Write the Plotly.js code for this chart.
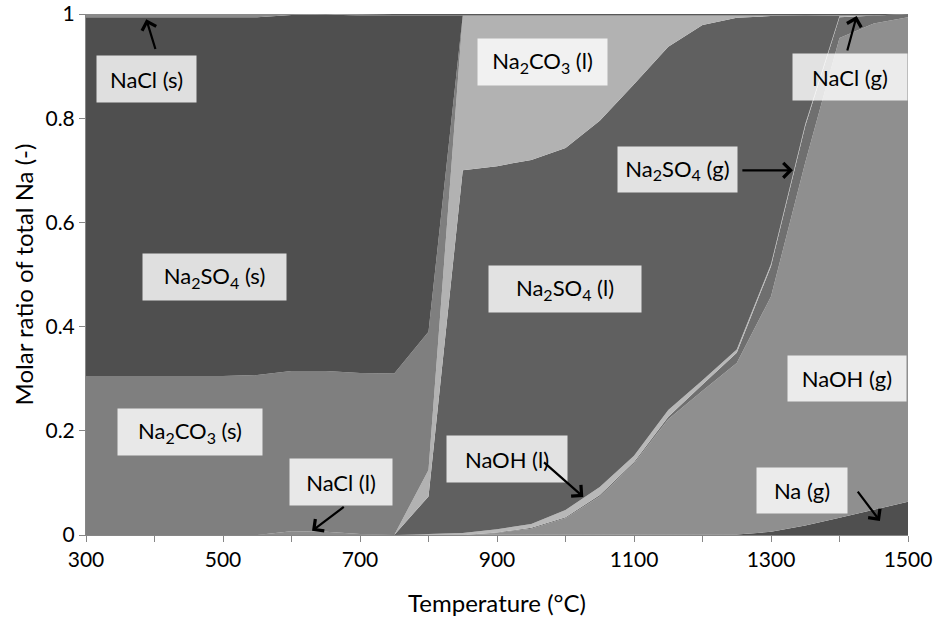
<!DOCTYPE html>
<html>
<head>
<meta charset="utf-8">
<script src="https://cdn.plot.ly/plotly-3.0.1.min.js"></script>
<style>
  html, body { margin: 0; padding: 0; background: #ffffff; }
  #chart { width: 939px; height: 625px; }
</style>
</head>
<body>
<div id="chart"></div>
<script>
// Temperature (°C)
const temperature = [300,350,400,450,500,550,600,650,700,750,800,850,900,950,1000,1050,1100,1150,1200,1250,1300,1350,1400,1450,1500];

// Molar ratio of total Na, per species (stacked bottom -> top)
const Na_g     = [0,0,0,0,0,0,0,0,0,0,0,0,0,0,0,0,0,0,0,0.001,0.006,0.018,0.033,0.048,0.064];
const NaOH_g   = [0,0,0,0,0,0,0,0,0,0,0,0,0.004,0.012,0.032,0.074,0.137,0.222,0.277,0.329,0.452,0.697,0.921,0.934,0.930];
const Na2SO4_g = [0,0,0,0,0,0,0,0,0,0,0,0,0.001,0.002,0.002,0.003,0.003,0.005,0.012,0.020,0.058,0.070,0.040,0.015,0.006];
const NaCl_l   = [0,0,0,0,0,0,0.007,0.006,0.002,0,0,0,0,0,0,0,0,0,0,0,0,0,0,0,0];
const NaOH_l   = [0,0,0,0,0,0,0,0,0,0,0.002,0.004,0.006,0.007,0.014,0.015,0.012,0.013,0.008,0.006,0.004,0.004,0.002,0,0];
const Na2SO4_l = [0,0,0,0,0,0,0,0,0,0,0.072,0.696,0.697,0.699,0.695,0.703,0.713,0.697,0.682,0.637,0.476,0.208,0,0,0];
const Na2CO3_l = [0,0,0,0,0,0,0,0,0,0,0.051,0.297,0.289,0.277,0.254,0.202,0.132,0.060,0.018,0.004,0.001,0,0,0,0];
const Na2CO3_s = [0.305,0.305,0.305,0.305,0.305,0.307,0.308,0.309,0.309,0.310,0.265,0,0,0,0,0,0,0,0,0,0,0,0,0,0];
const Na2SO4_s = [0.689,0.689,0.689,0.689,0.689,0.687,0.683,0.684,0.686,0.687,0.607,0,0,0,0,0,0,0,0,0,0,0,0,0,0];
const NaCl_g   = [0,0,0,0,0,0,0,0,0.003,0.003,0.003,0.003,0.003,0.003,0.003,0.003,0.003,0.003,0.003,0.003,0.003,0.003,0.004,0.003,0];
const NaCl_s   = [0.006,0.006,0.006,0.006,0.006,0.006,0.002,0.001,0,0,0,0,0,0,0,0,0,0,0,0,0,0,0,0,0];

const seriesNames = ["Na (g)","NaOH (g)","Na2SO4 (g)","NaCl (l)","NaOH (l)","Na2SO4 (l)","Na2CO3 (l)","Na2CO3 (s)","Na2SO4 (s)","NaCl (g)","NaCl (s)"];
const seriesValues = [Na_g, NaOH_g, Na2SO4_g, NaCl_l, NaOH_l, Na2SO4_l, Na2CO3_l, Na2CO3_s, Na2SO4_s, NaCl_g, NaCl_s];
const seriesColors = ["#4f4f4f","#8f8f8f","#6f6f6f","#8c8c8c","#b8b8b8","#606060","#b2b2b2","#7f7f7f","#4f4f4f","#585858","#8a8a8a"];

// Axis ticks
const xTickVals = [300,500,700,900,1100,1300,1500];
const xTickText = ["300","500","700","900","1100","1300","1500"];
const yTickVals = [0,0.2,0.4,0.6,0.8,1];
const yTickText = ["0","0.2","0.4","0.6","0.8","1"];

// Label boxes: text, centre (T, ratio), box size
const S = (d) => '<sub><span style="font-size:16px">' + d + '</span></sub>';
const labelTexts = ["NaCl (s)","Na"+S(2)+"CO"+S(3)+" (l)","NaCl (g)","Na"+S(2)+"SO"+S(4)+" (g)","Na"+S(2)+"SO"+S(4)+" (s)","Na"+S(2)+"SO"+S(4)+" (l)","NaOH (g)","Na"+S(2)+"CO"+S(3)+" (s)","NaOH (l)","NaCl (l)","Na (g)"];
const labelT = [388.4, 967, 1415, 1163, 487.8, 998.6, 1410.8, 452, 915.3, 672.7, 1345];
const labelV = [0.875, 0.908, 0.879, 0.7015, 0.495, 0.472, 0.300, 0.198, 0.146, 0.102, 0.0854];
const labelW = [99, 129, 114, 119, 143, 152, 118, 144, 120, 102, 90];
const labelH = [46, 46, 46, 45, 46, 46, 45, 46, 46, 46, 45];

// Arrows: tail -> tip
const arrowTailT = [402, 1410.8, 1256, 966.5, 678.5, 1425];
const arrowTailV = [0.93, 0.927, 0.70, 0.142, 0.056, 0.086];
const arrowTipT  = [388, 1425, 1332, 1026, 630, 1459];
const arrowTipV  = [0.99, 0.996, 0.70, 0.073, 0.008, 0.027];

const traces = seriesValues.map((vals, i) => ({
  type: "scatter",
  mode: "lines",
  name: seriesNames[i],
  x: temperature,
  y: vals,
  stackgroup: "one",
  line: {width: 0, color: seriesColors[i]},
  fillcolor: seriesColors[i],
  hoverinfo: "skip"
}));

const font = "Lato, 'Open Sans', sans-serif";
const annotations = [];
for (let i = 0; i < labelTexts.length; i++) {
  annotations.push({
    x: labelT[i], y: labelV[i], xref: "x", yref: "y",
    text: labelTexts[i], showarrow: false,
    width: labelW[i], height: labelH[i], borderpad: 0,
    bgcolor: "rgba(255,255,255,0.82)",
    align: "center", valign: "middle",
    font: {family: font, size: 22, color: "#000000"}
  });
}
for (let i = 0; i < arrowTipT.length; i++) {
  annotations.push({
    x: arrowTipT[i], y: arrowTipV[i], xref: "x", yref: "y",
    ax: arrowTailT[i], ay: arrowTailV[i], axref: "x", ayref: "y",
    text: "", showarrow: true, arrowhead: 4, arrowsize: 1.3, arrowwidth: 2.2,
    arrowcolor: "#000000", standoff: 0, startstandoff: 0
  });
}

const layout = {
  width: 939, height: 625,
  margin: {l: 86, r: 31, t: 14, b: 90},
  paper_bgcolor: "#ffffff", plot_bgcolor: "#ffffff",
  showlegend: false,
  font: {family: font, size: 18, color: "#000000"},
  xaxis: {
    range: [300, 1500], tickmode: "array", tickvals: xTickVals, ticktext: xTickText,
    ticks: "outside", ticklen: 6, tickcolor: "#868686", tickwidth: 1,
    minor: {dtick: 100, tick0: 300, ticks: "outside", ticklen: 6, tickcolor: "#868686", tickwidth: 1, showgrid: false},
    showline: true, linecolor: "#868686", linewidth: 1,
    showgrid: false, zeroline: false,
    tickfont: {family: font, size: 21, color: "#000000"},
    title: {text: "Temperature (°C)", font: {family: font, size: 24, color: "#000000"}, standoff: 24},
    automargin: false
  },
  yaxis: {
    range: [0, 1], tickmode: "array", tickvals: yTickVals, ticktext: yTickText,
    ticks: "outside", ticklen: 6, tickcolor: "#868686", tickwidth: 1,
    showline: true, linecolor: "#868686", linewidth: 1,
    showgrid: false, zeroline: false,
    tickfont: {family: font, size: 21, color: "#000000"},
    title: {text: "Molar ratio of total Na (-)", font: {family: font, size: 24, color: "#000000"}, standoff: 5},
    automargin: false
  },
  annotations: annotations
};

Plotly.newPlot("chart", traces, layout, {staticPlot: true, displayModeBar: false});
</script>
</body>
</html>
